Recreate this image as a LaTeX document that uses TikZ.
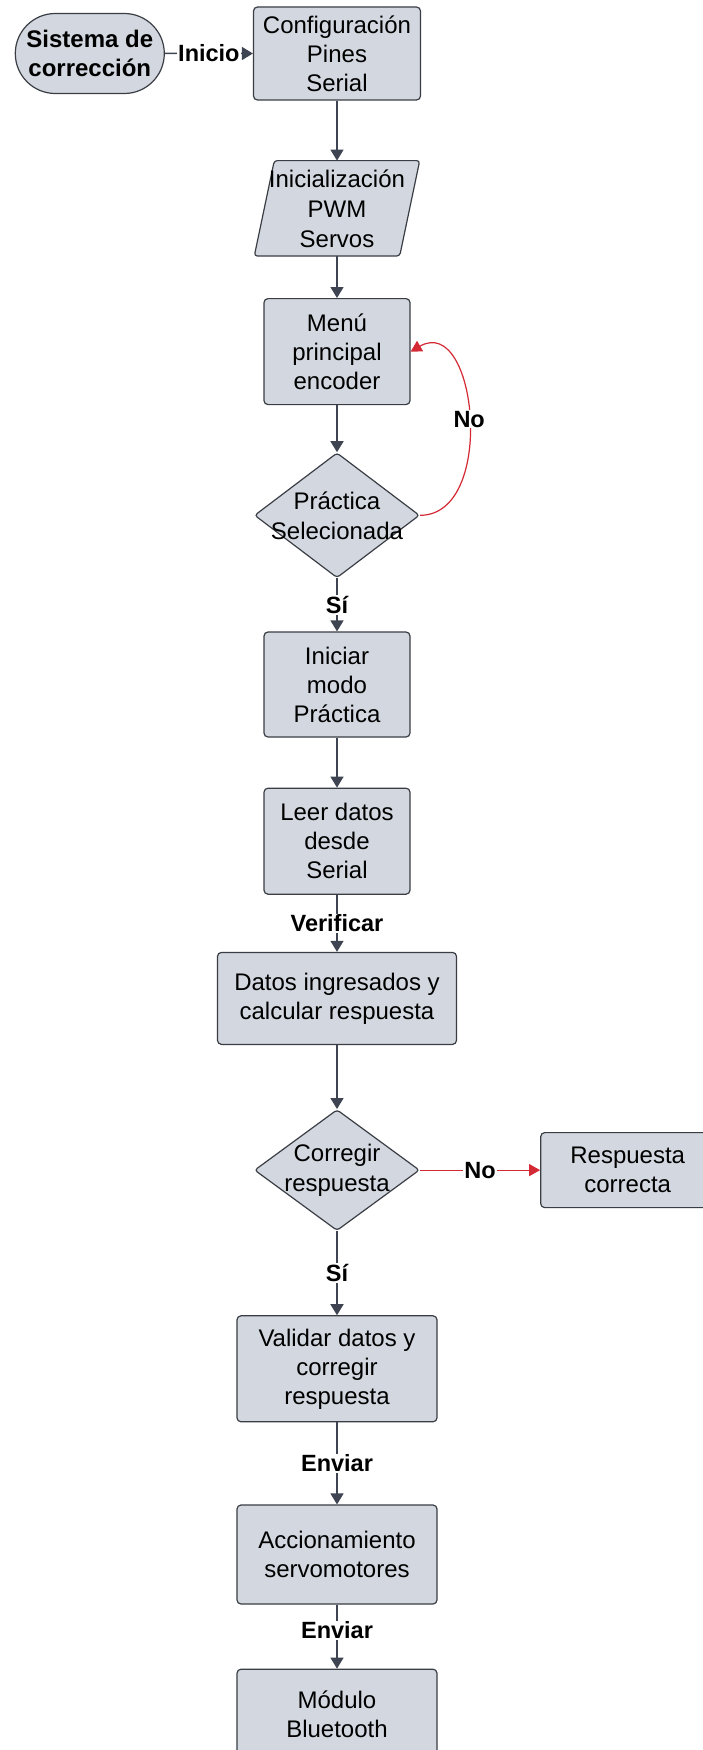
\documentclass[tikz,border=0pt]{standalone}
\usepackage{fontspec}
\setmainfont{Liberation Sans}
\usepackage{tikz}
\usetikzlibrary{arrows.meta,positioning,shapes.geometric,shapes.misc,backgrounds}
\definecolor{fcfill}{HTML}{D3D8E0}
\definecolor{fcline}{HTML}{3A3D44}
\definecolor{fcarrow}{HTML}{3E4451}
\definecolor{fcred}{HTML}{D42A35}

\begin{document}
\begin{tikzpicture}[x=1pt,y=-1pt,
  box/.style={rounded corners=4pt,draw=fcline,fill=fcfill,line width=1.2pt,align=center,font=\fontsize{24}{29}\selectfont,inner sep=2pt,minimum width=146pt,minimum height=106pt},
  term/.style={rounded rectangle,draw=fcline,fill=fcfill,line width=1.2pt,align=center,font=\bfseries\fontsize{24}{29}\selectfont,inner sep=2pt,minimum width=153pt,minimum height=80pt},
  io/.style={draw=fcline,fill=fcfill,line width=1.2pt,rounded corners=3pt},
  dec/.style={diamond,draw=fcline,fill=fcfill,line width=1.2pt,inner sep=0pt,minimum width=165pt,minimum height=125pt,rounded corners=3pt},
  txt/.style={align=center,font=\fontsize{24}{30}\selectfont,inner sep=0pt},
  lbl/.style={fill=white,font=\bfseries\fontsize{23.5}{28}\selectfont,inner sep=1pt},
  flow/.style={draw=fcarrow,line width=1.5pt,-{Triangle[length=11pt,width=13pt]}},
  nope/.style={draw=fcred,line width=1.2pt,-{Triangle[length=11pt,width=12pt]}}]
  \useasboundingbox (0,0) rectangle (703,1750);
  \node[box,minimum width=167pt,minimum height=93pt] (conf) at (337,53.5) {Configuración\\Pines\\Serial};
  \node[term,left=88pt of conf] (sis) {Sistema de\\corrección};
  \node[txt,below=60pt of conf,minimum width=145pt,minimum height=95pt] (pwm) {Inicialización\\PWM\\Servos};
  \node[box,below=42pt of pwm] (menu) {Menú\\principal\\encoder};
  \node[dec,below=47pt of menu,label={[txt]center:Práctica\\Selecionada}] (sel) {};
  \node[box,below=53pt of sel,minimum height=105pt] (modo) {Iniciar\\modo\\Práctica};
  \node[box,below=50pt of modo] (leer) {Leer datos\\desde\\Serial};
  \node[box,below=57pt of leer,minimum width=239pt,minimum height=92pt] (datos) {Datos ingresados y\\calcular respuesta};
  \node[dec,below=64pt of datos,minimum height=121pt,label={[txt]center:Corregir\\respuesta}] (corr) {};
  \node[box,right=117pt of corr,minimum width=174pt,minimum height=75pt,xshift=3pt] (resp) {Respuesta\\correcta};
  \node[box,below=84pt of corr,minimum width=200pt] (valid) {Validar datos y\\corregir\\respuesta};
  \node[box,below=82pt of valid,minimum width=200pt,minimum height=99pt] (servo) {Accionamiento\\servomotores};
  \node[box,below=64pt of servo,minimum width=200pt,minimum height=90pt] (blue) {Módulo\\Bluetooth};
  \begin{scope}[on background layer]
    \fill[white] (0,0) rectangle (703,1750);
    \draw[io] ([xshift=10pt]pwm.north west) -- ([xshift=10pt]pwm.north east)
      -- ([xshift=-10pt]pwm.south east) -- ([xshift=-10pt]pwm.south west) -- cycle;
  \end{scope}
  % main flow
  \draw[flow] (sis) -- node[lbl]{Inicio} (conf);
  \draw[flow] (conf)--(pwm); \draw[flow] (pwm)--(menu); \draw[flow] (menu)--(sel);
  \draw[flow] (sel) -- node[lbl]{Sí} (modo);
  \draw[flow] (modo)--(leer);
  \draw[flow] (leer) -- node[lbl]{Verificar} (datos);
  \draw[flow] (datos)--(corr);
  \draw[flow] (corr) -- node[lbl]{Sí} (valid);
  \draw[flow] (valid) -- node[lbl]{Enviar} (servo);
  \draw[flow] (servo) -- node[lbl,pos=0.4]{Enviar} (blue);
  % red branches
  \draw[nope] (corr) -- node[lbl]{No} (resp);
  \draw[nope] (sel.east) to[out=0,in=30,looseness=1.2] node[lbl]{No} (menu.east);
\end{tikzpicture}
\end{document}
